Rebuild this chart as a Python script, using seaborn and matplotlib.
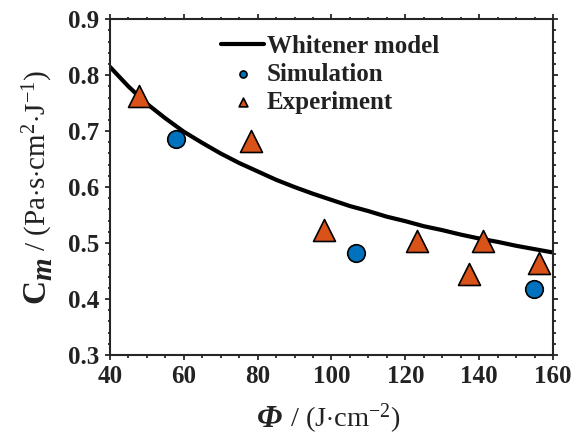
import matplotlib
matplotlib.use("Agg")
import matplotlib.pyplot as plt
import seaborn as sns
from matplotlib.ticker import MultipleLocator

# Data
model_phi = [40, 45, 50, 55, 60, 65, 70, 75, 80, 85, 90, 95, 100, 105, 110, 115,
             120, 125, 130, 135, 140, 145, 150, 155, 160]
model_cm = [0.815, 0.780, 0.749, 0.723, 0.699, 0.679, 0.660, 0.643, 0.628, 0.613,
            0.600, 0.588, 0.577, 0.566, 0.557, 0.547, 0.539, 0.530, 0.523, 0.515,
            0.508, 0.502, 0.495, 0.489, 0.483]

sim_phi = [57.8, 106.6, 154.9]
sim_cm = [0.685, 0.483, 0.417]

exp_phi = [47.9, 78.1, 98.1, 123.1, 137.1, 141.0, 156.1]
exp_cm = [0.763, 0.683, 0.524, 0.504, 0.445, 0.504, 0.464]

y_ticks = [0.3, 0.4, 0.5, 0.6, 0.7, 0.8, 0.9]
y_ticklabels = ['0.3', '0.4', '0.5', '0.6', '0.7', '0.8', '0.9']

sns.set_style("ticks")
plt.rcParams['font.family'] = ['Liberation Serif', 'DejaVu Serif']
plt.rcParams['mathtext.fontset'] = 'custom'
plt.rcParams['mathtext.rm'] = 'Liberation Serif'
plt.rcParams['mathtext.it'] = 'Liberation Serif:italic'
plt.rcParams['mathtext.bf'] = 'Liberation Serif:bold'
plt.rcParams['mathtext.bfit'] = 'Liberation Serif:bold:italic'

fig = plt.figure(figsize=(5.72, 4.36), dpi=100)
ax = fig.add_axes([0.192, 0.186, 0.775, 0.770])

blue = '#0072BD'
orange = '#D95319'
dark = '#222222'

sns.lineplot(x=model_phi, y=model_cm, ax=ax, color='black', linewidth=3.0,
             label='Whitener model')
sns.scatterplot(x=sim_phi, y=sim_cm, ax=ax, marker='o', s=160, color=blue,
                edgecolor='black', linewidth=1.2, label='Simulation', zorder=3)
sns.scatterplot(x=exp_phi, y=exp_cm, ax=ax, marker='^', s=250, color=orange,
                edgecolor='black', linewidth=1.2, label='Experiment', zorder=3)

ax.set_xlim(40, 160)
ax.set_ylim(0.3, 0.9)
ax.xaxis.set_major_locator(MultipleLocator(20))
ax.xaxis.set_minor_locator(MultipleLocator(5))
ax.set_yticks(y_ticks)
ax.set_yticklabels(y_ticklabels)
ax.yaxis.set_minor_locator(MultipleLocator(0.02))

for sp in ax.spines.values():
    sp.set_visible(True)
    sp.set_linewidth(1.5)
    sp.set_color('#262626')

ax.tick_params(which='both', direction='out', top=True, right=True,
               color='#262626', width=1.3)
ax.tick_params(which='major', length=3.5, pad=4)
ax.tick_params(which='minor', length=1.8)
for lbl in ax.get_xticklabels() + ax.get_yticklabels():
    lbl.set_fontweight('bold')
    lbl.set_fontsize(18)
    lbl.set_color(dark)

ax.set_xlabel('')
ax.set_ylabel('')

leg = ax.legend(loc='upper left', bbox_to_anchor=(0.25, 0.953), frameon=False,
                prop={'weight': 'bold', 'size': 18}, handlelength=1.75,
                handletextpad=0.1, labelspacing=0.2, markerscale=0.4,
                borderaxespad=0, borderpad=0)
for t in leg.get_texts():
    t.set_color(dark)

# Axis labels with mixed sizes, composed of pieces placed on common baselines
renderer = fig.canvas.get_renderer()

# x label
x_pieces = [
    (r"$\mathbfit{\Phi}$", 23),
    (r" / (J$\cdot$cm$^{-2}$)", 20.5),
]
xt = []
for s, fs in x_pieces:
    t = fig.text(0, 0, s, fontsize=fs, color=dark, ha='left', va='baseline')
    xt.append(t)
widths = [t.get_window_extent(renderer).width for t in xt]
total = sum(widths)
cx = (0.192 + 0.775 / 2) * fig.bbox.width
x0 = cx - total / 2 - 3
base_y = 9
for t, w in zip(xt, widths):
    t.set_position((x0 / fig.bbox.width, base_y / fig.bbox.height))
    x0 += w

# y label (rotated)
y_pieces = [
    (r"$\mathbf{C}$", 24),
    (r"$_{\mathbfit{m}}$", 30),
    (r" / (Pa$\cdot$s$\cdot$cm$^{2}$$\cdot$J$^{-1}$)", 21),
]
yt = []
for s, fs in y_pieces:
    t = fig.text(0, 0, s, fontsize=fs, color=dark, ha='left', va='baseline',
                 rotation=90, rotation_mode='anchor')
    yt.append(t)
heights = [t.get_window_extent(renderer).height for t in yt]
total = sum(heights)
cy = (0.186 + 0.770 / 2) * fig.bbox.height
y0 = cy - total / 2
base_x = 46
for t, h in zip(yt, heights):
    t.set_position((base_x / fig.bbox.width, y0 / fig.bbox.height))
    y0 += h

fig.savefig('out.png', dpi=100)
